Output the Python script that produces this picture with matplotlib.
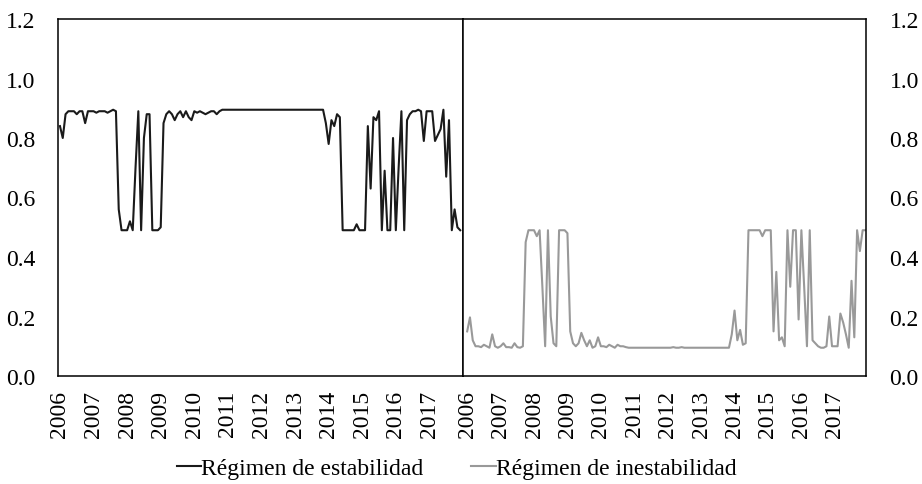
import matplotlib
matplotlib.use("Agg")
import matplotlib.pyplot as plt
import numpy as np

plt.rcParams['font.family'] = ['Liberation Serif', 'DejaVu Serif']

years = ['2006', '2007', '2008', '2009', '2010', '2011', '2012',
         '2013', '2014', '2015', '2016', '2017']

estabilidad = [
    0.84, 0.80, 0.88, 0.89, 0.89, 0.89, 0.88, 0.89, 0.89, 0.85, 0.89, 0.89,      # 2006
    0.89, 0.885, 0.89, 0.89, 0.89, 0.885, 0.89, 0.895, 0.89, 0.56, 0.49, 0.49,   # 2007
    0.49, 0.52, 0.49, 0.70, 0.89, 0.49, 0.80, 0.88, 0.88, 0.49, 0.49, 0.49,      # 2008
    0.50, 0.85, 0.88, 0.89, 0.88, 0.86, 0.88, 0.89, 0.87, 0.89, 0.87, 0.86,      # 2009
    0.89, 0.885, 0.89, 0.885, 0.88, 0.885, 0.89, 0.89, 0.88, 0.89, 0.895, 0.895, # 2010
    0.895, 0.895, 0.895, 0.895, 0.895, 0.895, 0.895, 0.895, 0.895, 0.895, 0.895, 0.895,  # 2011
    0.895, 0.895, 0.895, 0.895, 0.895, 0.895, 0.895, 0.895, 0.895, 0.895, 0.895, 0.895,  # 2012
    0.895, 0.895, 0.895, 0.895, 0.895, 0.895, 0.895, 0.895, 0.895, 0.895, 0.895, 0.85,   # 2013
    0.78, 0.86, 0.84, 0.88, 0.87, 0.49, 0.49, 0.49, 0.49, 0.49, 0.51, 0.49,      # 2014
    0.49, 0.49, 0.84, 0.63, 0.87, 0.86, 0.89, 0.49, 0.69, 0.49, 0.49, 0.80,      # 2015
    0.49, 0.70, 0.89, 0.49, 0.86, 0.88, 0.89, 0.89, 0.895, 0.89, 0.79, 0.89,     # 2016
    0.89, 0.89, 0.79, 0.81, 0.83, 0.895, 0.67, 0.86, 0.49, 0.56, 0.50, 0.49,     # 2017
]

inestabilidad = [
    0.15, 0.197, 0.12, 0.10, 0.10, 0.097, 0.105, 0.10, 0.095, 0.14, 0.10, 0.095,  # 2006
    0.10, 0.11, 0.097, 0.097, 0.095, 0.11, 0.097, 0.095, 0.10, 0.45, 0.49, 0.49,  # 2007
    0.49, 0.47, 0.49, 0.30, 0.10, 0.49, 0.20, 0.11, 0.10, 0.49, 0.49, 0.49,       # 2008
    0.48, 0.15, 0.11, 0.10, 0.11, 0.145, 0.12, 0.10, 0.12, 0.095, 0.10, 0.13,     # 2009
    0.10, 0.10, 0.097, 0.105, 0.10, 0.095, 0.105, 0.10, 0.10, 0.097, 0.095, 0.095,  # 2010
    0.095, 0.095, 0.095, 0.095, 0.095, 0.095, 0.095, 0.095, 0.095, 0.095, 0.095, 0.095,  # 2011
    0.095, 0.095, 0.097, 0.095, 0.095, 0.097, 0.095, 0.095, 0.095, 0.095, 0.095, 0.095,  # 2012
    0.095, 0.095, 0.095, 0.095, 0.095, 0.095, 0.095, 0.095, 0.095, 0.095, 0.095, 0.14,   # 2013
    0.22, 0.12, 0.155, 0.105, 0.11, 0.49, 0.49, 0.49, 0.49, 0.49, 0.47, 0.49,     # 2014
    0.49, 0.49, 0.15, 0.35, 0.12, 0.13, 0.10, 0.49, 0.30, 0.49, 0.49, 0.19,       # 2015
    0.49, 0.30, 0.10, 0.49, 0.12, 0.11, 0.10, 0.095, 0.095, 0.10, 0.20, 0.10,     # 2016
    0.10, 0.10, 0.21, 0.18, 0.14, 0.095, 0.32, 0.13, 0.49, 0.42, 0.49, 0.49,      # 2017
]

yticks = [0.0, 0.2, 0.4, 0.6, 0.8, 1.0, 1.2]

W, H = 922, 485
fig = plt.figure(figsize=(W / 100, H / 100), dpi=100)
bottom = 1 - 377 / H
height = (377 - 20) / H
ax1 = fig.add_axes([58 / W, bottom, (463 - 58) / W, height])
ax2 = fig.add_axes([463 / W, bottom, (866 - 463) / W, height])

x1 = np.arange(len(estabilidad))
x2 = np.arange(len(inestabilidad))
l1, = ax1.plot(x1, estabilidad, color='#1a1a1a', lw=1.5, label='Régimen de estabilidad')
l2, = ax2.plot(x2, inestabilidad, color='#999999', lw=1.5, label='Régimen de inestabilidad')

fs = 17
ax1.set_xlim(-0.7, 144.0)
ax2.set_xlim(-1.5, 143.2)
for ax in (ax1, ax2):
    ax.set_ylim(0, 1.2)
    ax.set_yticks(yticks)
    ax.set_yticklabels([f'{v:.1f}' for v in yticks], fontsize=fs)
    ax.set_xticks(np.arange(len(years)) * 12)
    ax.set_xticklabels(years, rotation=90, fontsize=fs)
    ax.tick_params(axis='both', length=0)
    ax.tick_params(axis='x', pad=10)
    for s in ax.spines.values():
        s.set_color('black')
        s.set_linewidth(1.1)

ax1.tick_params(axis='y', pad=16)
ax2.yaxis.tick_right()
ax2.tick_params(axis='y', pad=17, labelleft=False, labelright=True)

fig.legend(handles=[l1, l2], loc='center', bbox_to_anchor=(456.5 / W, 1 - 469 / H),
           ncol=2, frameon=False, fontsize=fs, handlelength=1.05, handletextpad=0.0,
           columnspacing=2.0, borderpad=0, borderaxespad=0)

fig.savefig('out.png', dpi=100)
